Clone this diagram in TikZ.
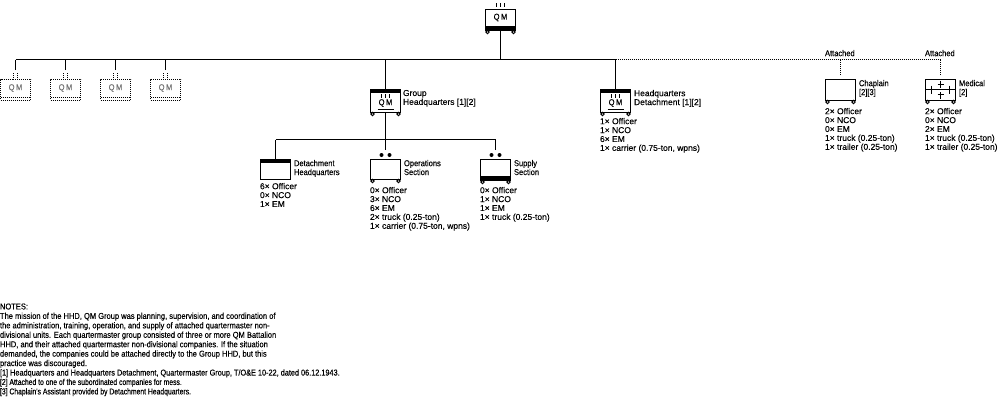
\documentclass[tikz,border=0pt]{standalone}
\usepackage{fontspec}
\setmainfont{Liberation Sans}[FakeStretch=0.885,FakeBold=0.25]
\newfontfamily\listfont{Liberation Sans}[FakeStretch=1.0,FakeBold=0.25]
\newfontfamily\notea{Liberation Sans}[FakeStretch=0.86,FakeBold=0.25]
\newfontfamily\noteb{Liberation Sans}[FakeStretch=0.8,FakeBold=0.25]
\tikzset{
  unitbox/.style={draw,line width=1pt,minimum width=30pt,minimum height=21pt,inner sep=0pt,outer sep=0pt},
  ghostbox/.style={unitbox,draw=black,dash pattern=on 1pt off 1pt},
  txt/.style={anchor=north west,inner sep=0pt,outer sep=0pt,align=left,font=\fontsize{8.5pt}{8.9pt}\selectfont},
  listtxt/.style={txt,font=\fontsize{8.5pt}{8.9pt}\listfont},
  notes/.style={txt,font=\fontsize{8.5pt}{9.44pt}\selectfont},
  sym/.style={inner sep=0pt,outer sep=0pt,font=\fontsize{8.5pt}{9pt}\selectfont},
  link/.style={line width=1pt},
  dotlink/.style={line width=1pt,dash pattern=on 1pt off 1pt},
  wheel/.style={line width=1pt,fill=white},
}
\newcommand{\wheelsOf}[1]{%
  \draw[wheel] ([xshift=2pt,yshift=-2pt]#1.south west) circle[radius=1.7pt];
  \draw[wheel] ([xshift=-2pt,yshift=-2pt]#1.south east) circle[radius=1.7pt];}
\newcommand{\bottomBar}[1]{\fill ([yshift=4pt]#1.south west) rectangle (#1.south east);}
\newcommand{\topBar}[1]{\fill (#1.north west) rectangle ([yshift=-4pt]#1.north east);}
\newcommand{\rankBars}[2]{%
  \foreach \dx in {-4,0,4} \draw[line width=1pt] ([xshift=\dx pt,yshift=#2 pt]#1.north) -- ++(0,4);}
\newcommand{\dotsOver}[1]{%
  \fill ([xshift=-4pt,yshift=4pt]#1.north) circle[radius=2pt];
  \fill ([xshift=4pt,yshift=4pt]#1.north) circle[radius=2pt];}
\begin{document}
\begin{tikzpicture}[x=1pt,y=-1pt]
\useasboundingbox (0,0) rectangle (1000,400);
% coordinates on the bus
\coordinate (busa) at (15.5,59.5);
\coordinate (busb) at (615.5,59.5);
\coordinate (busc) at (940.5,59.5);
\coordinate (subl) at (275.5,139.5);
\coordinate (subr) at (495.5,139.5);
% top unit
\node[unitbox] (qm) at (500.5,19.5) {};
\node[sym] (qmt) at (500.5,17.5) {Q\kern1.5pt M};
\bottomBar{qm}
\wheelsOf{qm}
\rankBars{qm}{6}
% ghost units
\foreach \n/\x in {ga/15.5,gb/65.5,gc/115.5,gd/165.5}{
  \node[ghostbox] (\n) at (\x,89.5) {};
  \node[sym,text=black!55] (\n t) at (\x,88) {Q\kern1.5pt M};
  \draw[dotlink] ([yshift=3pt]\n.south west) -- ([yshift=3pt]\n.south east);
  \draw[dotlink] ([xshift=-2pt,yshift=1pt]\n.north) -- ++(0,-5);
  \draw[dotlink] ([xshift=2pt,yshift=1pt]\n.north) -- ++(0,-5);
  \coordinate (\n s) at ([yshift=9pt]\n.north);
  \draw[link] (\n s) -- (\n s |- busa);
}
% Group HQ
\node[unitbox,minimum height=23pt] (ghq) at (385.5,100.5) {};
\topBar{ghq}
\rankBars{ghq}{-5}
\node[sym] (ghqt) at (385.5,103) {Q\kern1.5pt M};
\draw[link] ([xshift=-8pt,yshift=3pt]ghq.south) -- ([xshift=8pt,yshift=3pt]ghq.south);
\wheelsOf{ghq}
\node[listtxt] (ghql) at (403,90) {Group\\Headquarters [1][2]};
% HQ Detachment
\node[unitbox,minimum height=23pt] (hqd) at (615.5,100.5) {};
\topBar{hqd}
\rankBars{hqd}{-5}
\node[sym] (hqdt) at (615.5,103) {Q\kern1.5pt M};
\draw[link] ([xshift=-8pt,yshift=3pt]hqd.south) -- ([xshift=8pt,yshift=3pt]hqd.south);
\wheelsOf{hqd}
\node[listtxt] (hqdl) at (634,90) {Headquarters\\Detachment [1][2]};
\node[listtxt] (hqdx) at (600,118) {1× Officer\\1× NCO\\6× EM\\1× carrier (0.75-ton, wpns)};
% Detachment HQ
\node[unitbox,minimum height=20pt] (det) at (275.5,169) {};
\topBar{det}
\node[txt] (detl) at (294,160) {Detachment\\Headquarters};
\node[listtxt] (detx) at (260,183) {6× Officer\\0× NCO\\1× EM};
% Operations
\node[unitbox,minimum height=20pt] (ops) at (385.5,169) {};
\dotsOver{ops}
\wheelsOf{ops}
\node[txt] (opsl) at (404,160) {Operations\\Section};
\node[listtxt] (opsx) at (370,187) {0× Officer\\3× NCO\\6× EM\\2× truck (0.25-ton)\\1× carrier (0.75-ton, wpns)};
% Supply
\node[unitbox,minimum height=21pt] (sup) at (495.5,169.5) {};
\bottomBar{sup}
\dotsOver{sup}
\wheelsOf{sup}
\node[txt] (supl) at (514,160) {Supply\\Section};
\node[listtxt] (supx) at (480,187) {0× Officer\\1× NCO\\1× EM\\1× truck (0.25-ton)};
% Chaplain
\node[unitbox] (cha) at (840.5,89.5) {};
\wheelsOf{cha}
\node[txt] (chal) at (859,80) {Chaplain\\{}[2][3]};
\node[listtxt] (chax) at (825,108) {2× Officer\\0× NCO\\0× EM\\1× truck (0.25-ton)\\1× trailer (0.25-ton)};
\node[txt] (chaa) at (825,50) {Attached};
% Medical
\node[unitbox] (med) at (940.5,89.5) {};
\wheelsOf{med}
\draw[link] (med.west) -- (med.east);
\foreach \dx in {-9,9} \draw[link] ([xshift=\dx pt,yshift=4pt]med.center) -- ++(0,8);
\foreach \dy in {-5,5} {
  \draw[link] ([xshift=-3pt,yshift=\dy pt]med.center) -- ++(6,0);
}
\draw[link] ([yshift=9pt]med.center) -- ([yshift=2pt]med.center);
\draw[link] ([yshift=-9pt]med.center) -- ([yshift=-2pt]med.center);
\node[txt] (medl) at (959,80) {Medical\\{}[2]};
\node[listtxt] (medx) at (925,108) {2× Officer\\0× NCO\\2× EM\\1× truck (0.25-ton)\\1× trailer (0.25-ton)};
\node[txt] (meda) at (925,50) {Attached};
% connectors
\draw[link] (busa) -- (busb);
\draw[dotlink] (busb) -- (busc);
\draw[link] (qm.south) -- (qm.south |- busa);
\draw[link] (ghq.north) -- (ghq.north |- busa);
\draw[link] (hqd.north) -- (hqd.north |- busa);
\draw[link] (ghq.south) -- (ops.north |- subl) -- ([yshift=9pt]ops.north);
\draw[link] (subl) -- (subr);
\draw[link] (det.north) -- (subl);
\draw[link] ([yshift=9pt]sup.north) -- (subr);
\draw[dotlink] ([yshift=4pt]cha.north) -- (cha.north |- busc);
\draw[dotlink] ([yshift=4pt]med.north) -- (busc);
% notes
\node[notes] (nts) at (0,303.5) {NOTES:\\
The mission of the HHD, QM Group was planning, supervision, and coordination of\\
the administration, training, operation, and supply of attached quartermaster non-\\
divisional units. Each quartermaster group consisted of three or more QM Battalion\\
HHD, and their attached quartermaster non-divisional companies. If the situation\\
demanded, the companies could be attached directly to the Group HHD, but this\\
practice was discouraged.\\
{\notea [1] Headquarters and Headquarters Detachment, Quartermaster Group, T/O\&E 10-22, dated 06.12.1943.}\\
{\noteb [2] Attached to one of the subordinated companies for mess.}\\
{\noteb [3] Chaplain's Assistant provided by Detachment Headquarters.}};
\end{tikzpicture}
\end{document}
